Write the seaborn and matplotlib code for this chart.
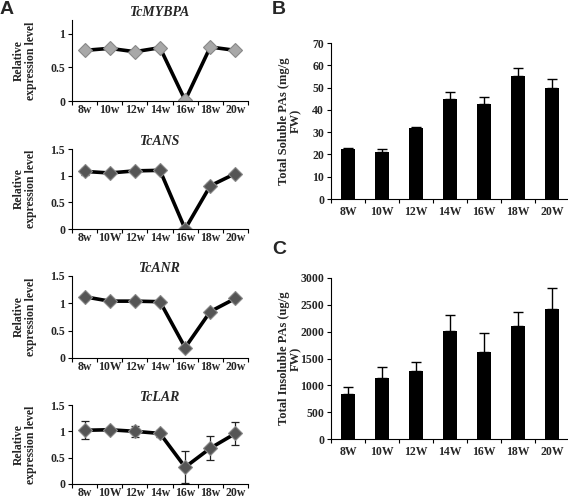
import numpy as np
import pandas as pd
import matplotlib
matplotlib.use("Agg")
import matplotlib.pyplot as plt
import seaborn as sns
from matplotlib.ticker import FixedLocator

sns.set_style("white")
plt.rcParams['font.family'] = ['Liberation Serif', 'DejaVu Serif']

# ---- data ----
weeks_A1 = ["8w", "10w", "12w", "14w", "16w", "18w", "20w"]
weeks_A = ["8w", "10W", "12w", "14w", "16w", "18w", "20w"]
mybpa = [0.75, 0.78, 0.73, 0.79, 0.01, 0.80, 0.75]
mybpa_err = [0.03, 0.02, 0.02, 0.02, 0.02, 0.02, 0.02]
ans = [1.08, 1.05, 1.09, 1.10, 0.00, 0.81, 1.04]
ans_err = [0.07, 0.03, 0.03, 0.03, 0.01, 0.05, 0.03]
anr = [1.12, 1.04, 1.04, 1.03, 0.19, 0.85, 1.09]
anr_err = [0.03, 0.02, 0.02, 0.02, 0.03, 0.03, 0.02]
lar = [1.02, 1.03, 1.00, 0.96, 0.32, 0.68, 0.96]
lar_err = [0.17, 0.02, 0.10, 0.07, 0.30, 0.23, 0.21]

weeks_B = ["8W", "10W", "12W", "14W", "16W", "18W", "20W"]
soluble = [22.5, 21.3, 32.0, 45.0, 42.8, 55.3, 49.7]
soluble_err = [0.3, 1.0, 0.2, 3.0, 3.0, 3.7, 4.0]
insoluble = [840, 1130, 1270, 2010, 1620, 2110, 2420]
insoluble_err = [120, 210, 170, 300, 360, 250, 390]

W, H = 568, 501
fig = plt.figure(figsize=(W / 100, H / 100), dpi=100)

def rect(l, r, top, bot):
    return [l / W, 1 - bot / H, (r - l) / W, (bot - top) / H]

TICK_FS = 8.5

def style_cat_axis(ax, xpad):
    for s in ['top', 'right']:
        ax.spines[s].set_visible(False)
    for s in ['left', 'bottom']:
        ax.spines[s].set_color('black')
        ax.spines[s].set_linewidth(0.8)
    ax.set_xlim(-0.5, 6.5)
    ax.xaxis.set_minor_locator(FixedLocator(np.arange(-0.5, 7.0, 1.0)))
    ax.tick_params(axis='x', which='major', length=0, pad=xpad)
    ax.tick_params(axis='x', which='minor', length=3, width=0.8, direction='out', color='black', bottom=True)
    ax.tick_params(axis='y', which='major', length=3, width=0.8, direction='out', color='black', left=True, pad=2)
    for lab in ax.get_xticklabels() + ax.get_yticklabels():
        lab.set_fontsize(TICK_FS)
        lab.set_fontweight('bold')
    ax.set_xlabel("")

def line_panel(rectpx, cats, vals, errs, title, ymax, yticks, yticklabels, face):
    ax = fig.add_axes(rect(*rectpx))
    df = pd.DataFrame({"week": cats, "val": vals})
    ax.errorbar(np.arange(len(vals)), vals, yerr=errs, fmt='none', ecolor='#222222',
                elinewidth=0.9, capsize=3, capthick=0.9, zorder=2)
    sns.pointplot(data=df, x="week", y="val", ax=ax, color='black', markers='D',
                  linestyles='-', errorbar=None, markersize=7, linewidth=2.6)
    for ln in ax.lines:
        if ln.get_marker() == 'D':
            ln.set_markerfacecolor(face)
            ln.set_markeredgecolor('#888888')
            ln.set_markeredgewidth(0.8)
    ax.set_ylim(0, ymax)
    ax.set_yticks(yticks)
    ax.set_yticklabels(yticklabels)
    ax.set_title(title, fontsize=10, fontweight='bold', fontstyle='italic', pad=3)
    ax.set_ylabel("Relative\nexpression level", fontsize=8.5, fontweight='bold', linespacing=1.0)
    ax.yaxis.set_label_coords(-0.2, 0.5)
    style_cat_axis(ax, 2)
    return ax

line_panel((72, 248, 20, 101), weeks_A1, mybpa, mybpa_err, "TcMYBPA", 1.2,
           [0, 0.5, 1], ["0", "0.5", "1"], '#a8a8a8')
line_panel((72, 248, 149, 229), weeks_A, ans, ans_err, "TcANS", 1.5,
           [0, 0.5, 1, 1.5], ["0", "0.5", "1", "1.5"], '#555555')
line_panel((72, 248, 276, 358), weeks_A, anr, anr_err, "TcANR", 1.5,
           [0, 0.5, 1, 1.5], ["0", "0.5", "1", "1.5"], '#555555')
line_panel((72, 248, 405, 484), weeks_A, lar, lar_err, "TcLAR", 1.5,
           [0, 0.5, 1, 1.5], ["0", "0.5", "1", "1.5"], '#555555')

def bar_panel(rectpx, vals, errs, ymax, ystep, ylabel):
    ax = fig.add_axes(rect(*rectpx))
    df = pd.DataFrame({"week": weeks_B, "val": vals})
    sns.barplot(data=df, x="week", y="val", ax=ax, color='black', width=0.44,
                errorbar=None, saturation=1, linewidth=0)
    ax.errorbar(np.arange(len(vals)), vals, yerr=[np.zeros(len(errs)), errs], fmt='none',
                ecolor='black', elinewidth=1.0, capsize=3.5, capthick=1.0)
    ax.set_ylim(0, ymax)
    ax.set_yticks(np.arange(0, ymax + 1, ystep))
    ax.set_ylabel(ylabel, fontsize=9, fontweight='bold', linespacing=1.0)
    ax.yaxis.set_label_coords(-0.12, 0.5)
    style_cat_axis(ax, 5)
    return ax

bar_panel((331, 569, 43, 199), soluble, soluble_err, 70, 10, "Total Soluble PAs (mg/g\nFW)")
bar_panel((331, 569, 278, 439), insoluble, insoluble_err, 3000, 500, "Total Insoluble PAs (ug/g\nFW)")

for lab, x, y in [("A", 0, 1), ("B", 272, 1), ("C", 272, 241)]:
    fig.text(x / W, 1 - y / H, lab, fontsize=14, fontweight='bold', family='Liberation Sans',
             ha='left', va='top')

fig.savefig("out.png", dpi=100)
